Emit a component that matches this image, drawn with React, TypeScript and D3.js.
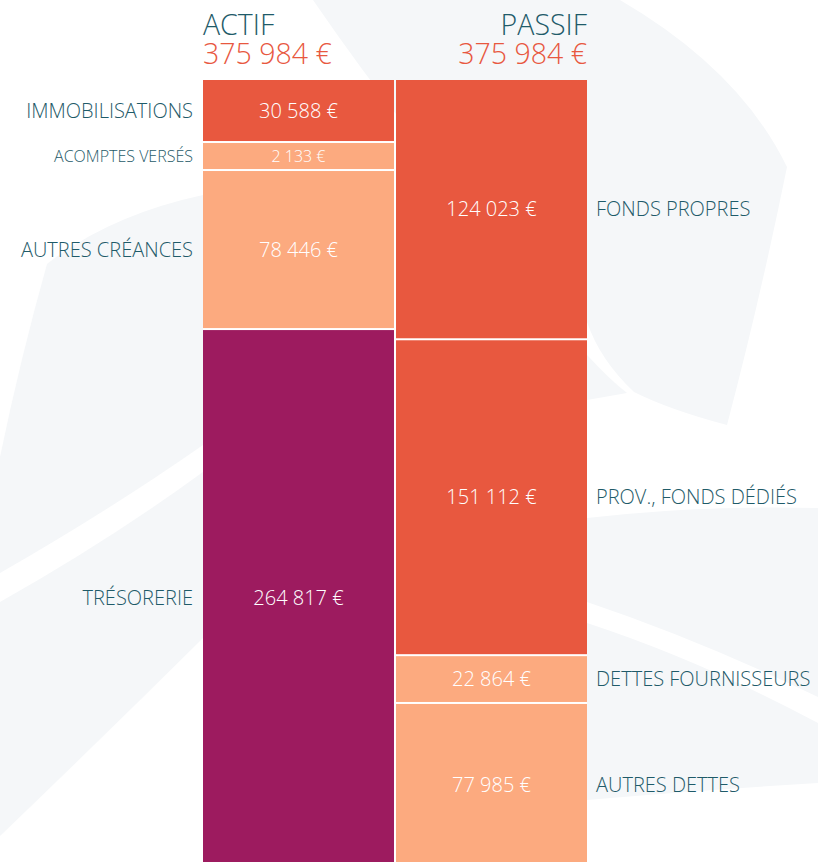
import * as d3 from "d3";

// bilan actif / passif, valeurs en euros
const actifLabels = ["IMMOBILISATIONS", "ACOMPTES VERSÉS", "AUTRES CRÉANCES", "TRÉSORERIE"];
const actifValues = [30588, 2133, 78446, 264817];
const passifLabels = ["FONDS PROPRES", "PROV., FONDS DÉDIÉS", "DETTES FOURNISSEURS", "AUTRES DETTES"];
const passifValues = [124023, 151112, 22864, 77985];
const columns = ["ACTIF", "PASSIF"];

const RED = "#e8583f";
const PEACH = "#fcaa7f";
const PLUM = "#9d1b5f";
const TEAL = "#1f5b69";
const actifColors = [RED, PEACH, PEACH, PLUM];
const passifColors = [RED, RED, PEACH, PEACH];

const width = 818;
const height = 862;
const top = 80;
const bottom = 866; // the stack runs a little past the frame
const minH = 28;
const gap = 2;
const font = "'Open Sans', sans-serif";

const fmt = (v: number) => d3.format(",")(v).replace(/,/g, " ") + " €";

function layout(values: number[]) {
  const total = d3.sum(values);
  const y = d3.scaleLinear().domain([0, total]).range([top, bottom]);
  // small items get a minimum height, the rest share what is left
  const minV = y.invert(top + minH) - y.invert(top);
  const small = values.filter((v) => v < minV);
  const bigSum = d3.sum(values.filter((v) => v >= minV));
  const k = (total - small.length * minV) / bigSum;
  const adj = values.map((v) => (v < minV ? minV : v * k));
  const ends = d3.cumsum(adj);
  return values.map((v, i) => {
    const y0 = y(i === 0 ? 0 : ends[i - 1]) + (i === 0 ? 0 : gap / 2);
    const y1 = y(ends[i]) - (i === values.length - 1 ? 0 : gap / 2);
    return { v, y0, y1, small: v < minV };
  });
}

function Background() {
  return (
    <g fill="#f5f7f9">
      <path d="M313,0 L620,0 Q740,70 787,167 Q760,300 727,425 Q670,410 634,392 Q600,360 587,322 Q450,200 313,0 Z" />
      <path d="M587,355 Q610,380 627,393 L587,400 Z" />
      <path d="M587,518 Q700,505 818,508 L818,697 Q700,640 587,602 Z" />
      <path d="M587,623 Q700,660 818,723 L818,783 Q700,790 587,800 Z" />
      <path d="M203,195 Q110,215 47,264 Q20,360 0,457 L0,573 Q110,510 203,445 Z" />
      <path d="M0,602 Q110,540 203,472 L203,638 Q100,740 0,836 Z" />
    </g>
  );
}

export default function App() {
  const x = d3.scaleBand().domain(columns).range([203, 587]).paddingInner(0.0105);
  const bw = x.bandwidth();
  const actif = layout(actifValues);
  const passif = layout(passifValues);
  const xa = x("ACTIF")!;
  const xp = x("PASSIF")!;

  return (
    <div style={{ position: "absolute", left: 0, top: 0 }}>
      <svg
        width={width}
        height={height}
        style={{ display: "block", background: "#fff" }}
        fontFamily={font}
        fontWeight={350}
      >
        <Background />

        {/* titres */}
        <g fontWeight={300} fontSize={28.5}>
          <text x={203} y={35} fill={TEAL}>ACTIF</text>
          <text x={203} y={64} fill={RED}>{fmt(d3.sum(actifValues))}</text>
          <text x={587} y={35} fill={TEAL} textAnchor="end">PASSIF</text>
          <text x={587} y={64} fill={RED} textAnchor="end">{fmt(d3.sum(passifValues))}</text>
        </g>

        {/* actif */}
        {actif.map((d, i) => (
          <g key={actifLabels[i]}>
            <rect x={xa} y={d.y0} width={bw} height={d.y1 - d.y0} fill={actifColors[i]} />
            <text
              x={xa + bw / 2}
              y={(d.y0 + d.y1) / 2}
              dy="0.35em"
              textAnchor="middle"
              fill="#fff"
              fontSize={d.small ? 16 : 20}
            >
              {fmt(d.v)}
            </text>
            <text
              x={xa - 10}
              y={(d.y0 + d.y1) / 2}
              dy="0.35em"
              textAnchor="end"
              fill={TEAL}
              fontSize={d.small ? 16 : 20}
            >
              {actifLabels[i]}
            </text>
          </g>
        ))}

        {/* passif */}
        {passif.map((d, i) => (
          <g key={passifLabels[i]}>
            <rect x={xp} y={d.y0} width={bw} height={d.y1 - d.y0} fill={passifColors[i]} />
            <text
              x={xp + bw / 2}
              y={(d.y0 + d.y1) / 2}
              dy="0.35em"
              textAnchor="middle"
              fill="#fff"
              fontSize={d.small ? 16 : 20}
            >
              {fmt(d.v)}
            </text>
            <text
              x={xp + bw + 9}
              y={(d.y0 + d.y1) / 2}
              dy="0.35em"
              textAnchor="start"
              fill={TEAL}
              fontSize={20}
            >
              {passifLabels[i]}
            </text>
          </g>
        ))}
      </svg>
    </div>
  );
}
